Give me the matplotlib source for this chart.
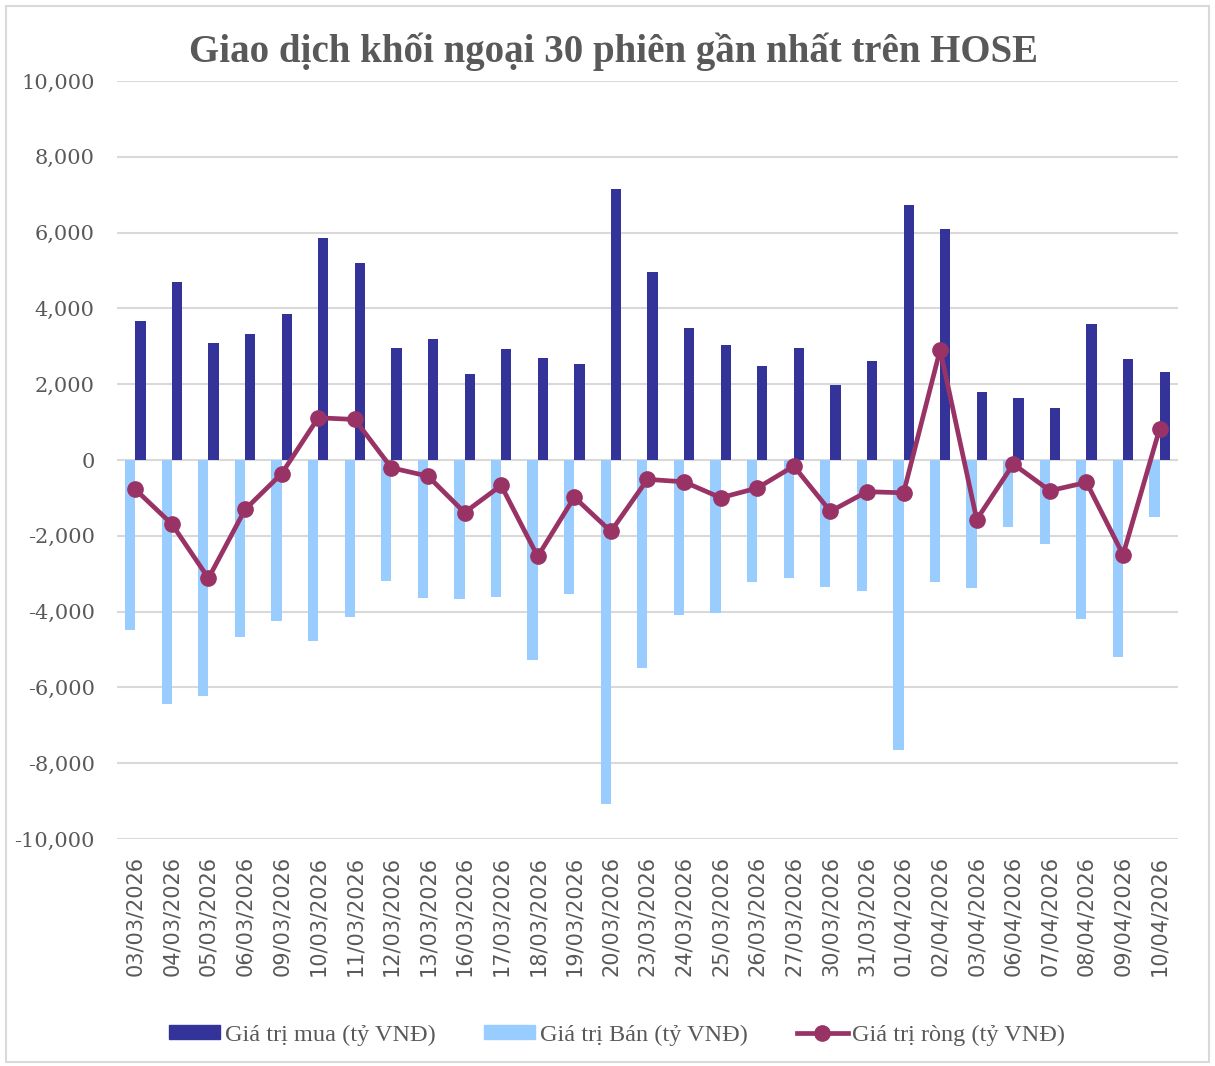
import numpy as np
import matplotlib
matplotlib.use("Agg")
import matplotlib.pyplot as plt
from matplotlib.lines import Line2D
from matplotlib.patches import Patch, Rectangle

# du lieu doc tu hinh (ty VND)
ngay = ["03/03/2026", "04/03/2026", "05/03/2026", "06/03/2026", "09/03/2026",
        "10/03/2026", "11/03/2026", "12/03/2026", "13/03/2026", "16/03/2026",
        "17/03/2026", "18/03/2026", "19/03/2026", "20/03/2026", "23/03/2026",
        "24/03/2026", "25/03/2026", "26/03/2026", "27/03/2026", "30/03/2026",
        "31/03/2026", "01/04/2026", "02/04/2026", "03/04/2026", "06/04/2026",
        "07/04/2026", "08/04/2026", "09/04/2026", "10/04/2026"]
mua = [3670, 4710, 3080, 3330, 3840, 5870, 5210, 2965, 3200, 2265,
       2930, 2700, 2525, 7160, 4960, 3490, 3025, 2475, 2950, 1990,
       2600, 6740, 6105, 1805, 1625, 1375, 3590, 2675, 2325]
ban = [-4475, -6430, -6220, -4670, -4240, -4775, -4140, -3190, -3645, -3655,
       -3620, -5285, -3525, -9075, -5495, -4080, -4045, -3225, -3110, -3355,
       -3460, -7640, -3205, -3385, -1755, -2210, -4195, -5190, -1490]
rong = [-775, -1690, -3120, -1305, -360, 1115, 1070, -205, -425, -1385,
        -670, -2545, -980, -1885, -510, -575, -995, -740, -160, -1355,
        -835, -865, 2910, -1570, -105, -810, -590, -2500, 825]

c_mua = "#333399"
c_ban = "#99ccff"
c_rong = "#993366"
xam = "#595959"

fig = plt.figure(figsize=(12.15, 10.66), dpi=100)
ax = fig.add_axes([0.0963, 0.2129, 0.9695 - 0.0963, 0.924 - 0.2129])

x = np.arange(len(ngay))
w = 0.28
ax.bar(x - w / 2, ban, width=w, color=c_ban, zorder=2)
ax.bar(x + w / 2, mua, width=w, color=c_mua, zorder=2)
ax.plot(x, rong, color=c_rong, lw=3.4, marker="o", ms=11, zorder=3)

ax.set_ylim(-10000, 10000)
ax.set_xlim(-0.5, len(ngay) - 0.5)
ax.set_yticks(np.arange(-10000, 10001, 2000))
ax.set_yticklabels(["{:,}".format(v) for v in range(-10000, 10001, 2000)],
                   fontfamily="DejaVu Serif", fontsize=15, color=xam)
ax.set_xticks(x)
ax.set_xticklabels(ngay, rotation=90, fontfamily="DejaVu Sans", fontsize=15, color=xam)
ax.tick_params(axis="both", length=0)
ax.tick_params(axis="x", pad=12)
ax.tick_params(axis="y", pad=16)
ax.grid(axis="y", color="#d9d9d9", lw=1.5, zorder=0)
ax.set_axisbelow(True)
for s in ax.spines.values():
    s.set_visible(False)

fig.text(0.505, 0.951, "Giao dịch khối ngoại 30 phiên gần nhất trên HOSE",
         ha="center", va="center", fontfamily="Liberation Serif",
         fontweight="bold", fontsize=28, color=xam)

handles = [Patch(color=c_mua), Patch(color=c_ban),
           Line2D([], [], color=c_rong, lw=3.4, marker="o", ms=11)]
labels = ["Giá trị mua (tỷ VNĐ)", "Giá trị Bán (tỷ VNĐ)", "Giá trị ròng (tỷ VNĐ)"]
fig.legend(handles, labels, loc="center", bbox_to_anchor=(0.508, 0.029), ncol=3,
           frameon=False, prop={"family": "Liberation Serif", "size": 17.5},
           labelcolor=xam, handlelength=2.1, handleheight=0.55,
           handletextpad=0.2, columnspacing=2.0)

fig.patches.append(Rectangle((0.005, 0.004), 0.99, 0.99, transform=fig.transFigure,
                             fill=False, edgecolor="#d9d9d9", lw=1.5))

fig.savefig("out.png", dpi=100)
